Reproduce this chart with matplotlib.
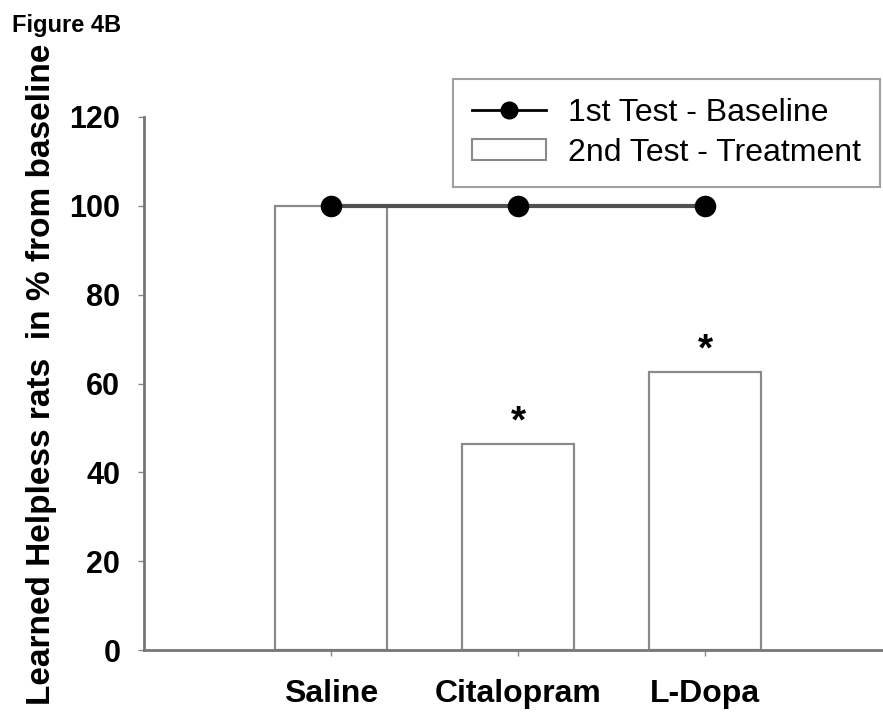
import numpy as np
import matplotlib
matplotlib.use("Agg")
import matplotlib.pyplot as plt
from matplotlib.patches import Patch
from matplotlib.lines import Line2D

plt.rcParams['font.family'] = ['Liberation Sans', 'DejaVu Sans']

# data
groups = ["Saline", "Citalopram", "L-Dopa"]
baseline = [100, 100, 100]          # 1st test
treatment = [100, 46.4, 62.6]       # 2nd test
signif = ["", "*", "*"]
yticks = [0, 20, 40, 60, 80, 100, 120]

fig = plt.figure(figsize=(8.83, 7.13), dpi=100)
ax = fig.add_axes([0.163, 0.088, 0.837, 0.748])

x = np.arange(len(groups))
ax.bar(x, treatment, width=0.6, color="white", edgecolor="#8a8a8a",
       linewidth=1.6, zorder=2)
ax.plot(x, baseline, color="#505050", linewidth=3, marker="o",
        markersize=14.5, markerfacecolor="black", markeredgecolor="black",
        zorder=3, clip_on=False)

for xi, h, s in zip(x, treatment, signif):
    if s:
        ax.text(xi, h + 0.8, s, ha="center", va="bottom", fontsize=28,
                fontweight="bold")

ax.set_xlim(-1.0, 2.95)
ax.set_ylim(0, 120)
ax.set_yticks(yticks)
ax.set_xticks(x)
ax.set_xticklabels(groups, fontsize=23, fontweight="bold")
ax.tick_params(axis="x", length=4, width=1, color="#888888", pad=17)
ax.tick_params(axis="y", length=4, width=1, color="#888888", labelsize=22, pad=13)
for lab in ax.get_yticklabels():
    lab.set_fontweight("bold")

for side in ["top", "right"]:
    ax.spines[side].set_visible(False)
for side in ["left", "bottom"]:
    ax.spines[side].set_color("#777777")
    ax.spines[side].set_linewidth(2)

fig.text(42 / 883, 1 - 374 / 713, "Learned Helpless rats  in % from baseline",
         fontsize=24, fontweight="bold", rotation=90, ha="center", va="center")

handles = [
    Line2D([0], [0], color="black", linewidth=2, marker="o", markersize=12),
    Patch(facecolor="white", edgecolor="#8a8a8a", linewidth=1.5),
]
leg = fig.legend(handles, ["1st Test - Baseline", "2nd Test - Treatment"],
                 loc="upper left", bbox_to_anchor=(453 / 883, 1 - 79 / 713),
                 borderaxespad=0, fontsize=23, frameon=True, fancybox=False,
                 handlelength=2.3, handleheight=0.6, borderpad=0.6,
                 labelspacing=0.3, handletextpad=0.7)
leg.get_frame().set_edgecolor("#888888")
leg.get_frame().set_linewidth(1.5)

fig.text(12 / 883, 1 - 14 / 713, "Figure 4B", fontsize=17, fontweight="bold",
         va="top")

fig.savefig("out.png", dpi=100)
